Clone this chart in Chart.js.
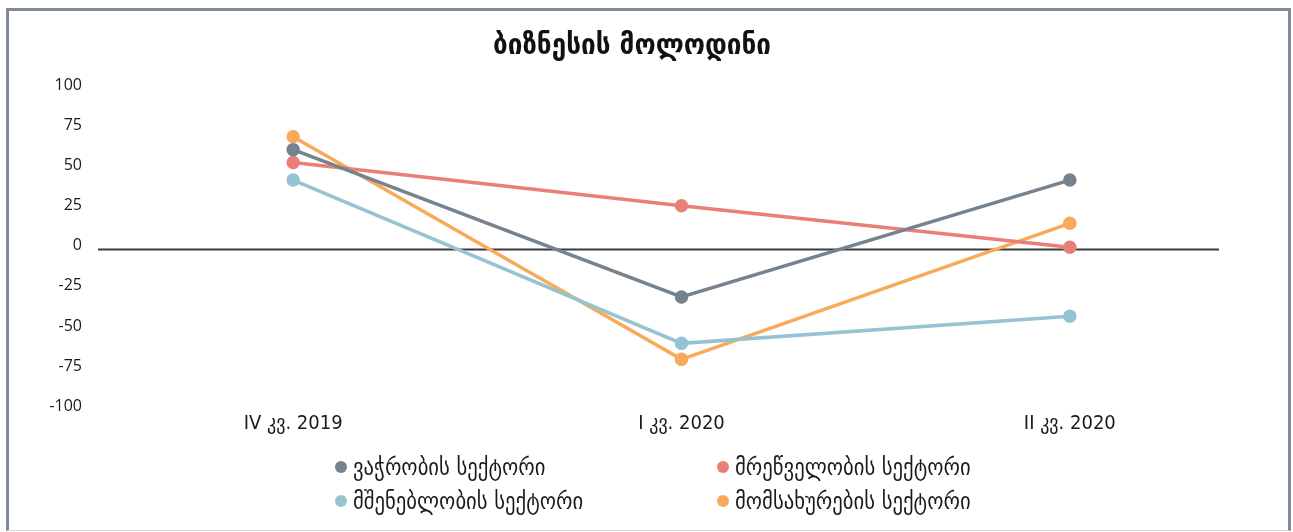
<!DOCTYPE html>
<html>
<head>
<meta charset="utf-8">
<script src="https://cdn.jsdelivr.net/npm/chart.js@4"></script>
<style>
  html, body { margin: 0; padding: 0; background: #fff; }
  body { width: 1293px; height: 532px; position: relative; overflow: hidden; }
  #frame {
    position: absolute; left: 6px; top: 8px; width: 1279px; height: 519px;
    border: 3px solid #7f8b98; border-bottom: 1px solid #dadada;
  }
  #wrap { position: absolute; left: 0; top: 0; width: 1293px; height: 532px; }
  #legend {
    position: absolute; left: 335px; top: 450px;
    display: grid; grid-template-columns: 382px 320px;
    font-family: "DejaVu Sans Condensed", "DejaVu Sans", sans-serif; font-size: 23px; color: #1a1a1a;
  }
  .item { display: flex; align-items: center; height: 34px; white-space: nowrap; }
  .dot { width: 12px; height: 12px; border-radius: 50%; margin-right: 6px; flex: none; }
</style>
</head>
<body>
<div id="frame"></div>
<div id="wrap"><canvas id="chart" width="1293" height="532"></canvas></div>
<div id="legend"></div>
<script>
// Data
const categories = ['IV კვ. 2019', 'I კვ. 2020', 'II კვ. 2020'];
const seriesNames = ['ვაჭრობის სექტორი', 'მრეწველობის სექტორი', 'მშენებლობის სექტორი', 'მომსახურების სექტორი'];
const trade = [62, -30, 43];
const industry = [54, 27, 1];
const construction = [43, -59, -42];
const services = [70, -69, 16];
const yTicks = [-100, -75, -50, -25, 0, 25, 50, 75, 100];
const colors = ['#76838f', '#e97f76', '#95c3d2', '#f9a95a'];

const seriesValues = [trade, industry, construction, services];

// zero line, stops short of the right edge like the original
const zeroLine = {
  id: 'zeroLine',
  beforeDatasetsDraw(chart) {
    const { ctx, chartArea, scales } = chart;
    const y = Math.round(scales.y.getPixelForValue(0)) + 0.5;
    ctx.save();
    ctx.strokeStyle = '#3a3a3a';
    ctx.lineWidth = 1.8;
    ctx.beginPath();
    ctx.moveTo(chartArea.left - 1, y);
    ctx.lineTo(chartArea.right - 45, y);
    ctx.stroke();
    ctx.restore();
  }
};

const chart = new Chart(document.getElementById('chart').getContext('2d'), {
  type: 'line',
  data: {
    labels: categories,
    datasets: seriesValues.map((vals, i) => ({
      label: seriesNames[i],
      data: vals,
      borderColor: colors[i],
      backgroundColor: colors[i],
      borderWidth: 3.5,
      pointRadius: 5,
      pointHoverRadius: 5,
      tension: 0
    }))
  },
  options: {
    responsive: false,
    animation: false,
    layout: { padding: { left: 0, right: 29, top: 0, bottom: 96 } },
    plugins: {
      legend: { display: false },
      tooltip: { enabled: false },
      title: {
        display: true,
        text: 'ბიზნესის მოლოდინი',
        color: '#111',
        font: { family: '"DejaVu Sans Condensed", "DejaVu Sans", sans-serif', size: 29, weight: 'bold' },
        padding: { top: 29, bottom: 25 }
      }
    },
    scales: {
      x: {
        offset: true,
        afterFit(scale) { scale.height = 27; },
        grid: { display: false, drawTicks: false },
        border: { display: false },
        ticks: {
          color: '#1a1a1a',
          padding: 3,
          maxRotation: 0,
          font: { family: '"DejaVu Sans Condensed", "DejaVu Sans", sans-serif', size: 20 }
        }
      },
      y: {
        min: -100,
        max: 100,
        afterFit(scale) { scale.width = 99; },
        afterBuildTicks(scale) { scale.ticks = yTicks.map(v => ({ value: v })); },
        grid: { display: false },
        border: { display: false },
        ticks: {
          color: '#1a1a1a',
          padding: 9,
          labelOffset: -3,
          font: { family: '"Open Sans", sans-serif', size: 16 }
        }
      }
    }
  },
  plugins: [zeroLine]
});

// legend in two columns
const legend = document.getElementById('legend');
[0, 1, 2, 3].forEach(i => {
  const item = document.createElement('div');
  item.className = 'item';
  item.innerHTML = `<span class="dot" style="background:${colors[i]}"></span><span>${seriesNames[i]}</span>`;
  legend.appendChild(item);
});
</script>
</body>
</html>
